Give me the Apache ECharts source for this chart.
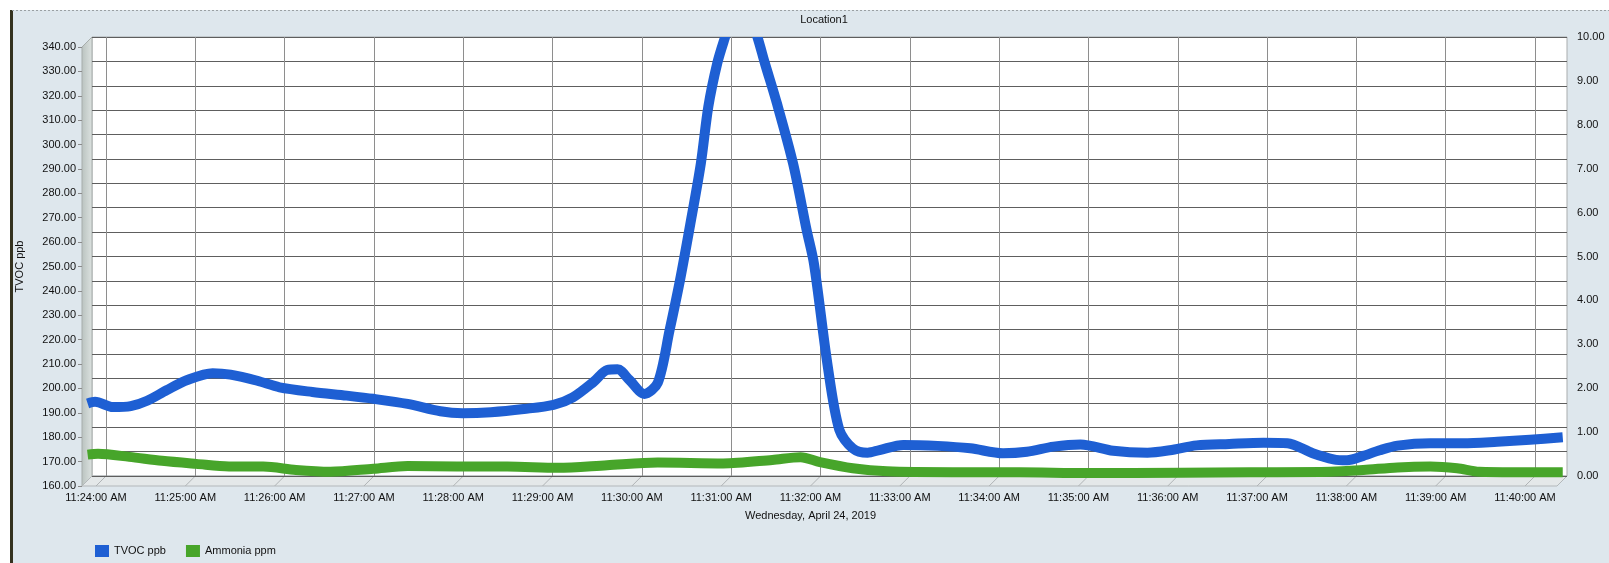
<!DOCTYPE html>
<html><head><meta charset="utf-8">
<script src="https://cdn.jsdelivr.net/npm/echarts@6/dist/echarts.min.js"></script>
<style>html,body{margin:0;padding:0;background:#fff}#c{width:1609px;height:563px}</style>
</head><body><div id="c"></div>
<script>
// ---------- data ----------
const chartTitle = 'Location1';
const dateLabel = 'Wednesday, April 24, 2019';
const seriesNames = ['TVOC ppb', 'Ammonia ppm'];
const timeTickRange = ['11:24:00', '11:40:00'];   // labelled minute ticks
const tvocAxisRange = [160, 340];
const ammoniaAxisRange = [0, 10];

const tvocTimes = ['11:23:51','11:23:56','11:24:08','11:24:20','11:24:31','11:24:44','11:24:58','11:25:15','11:25:27','11:25:45','11:26:00','11:26:22','11:26:45','11:27:03','11:27:26','11:27:48','11:28:03','11:28:22','11:28:44','11:29:04','11:29:17','11:29:31','11:29:40','11:29:47','11:29:55','11:30:05','11:30:14','11:30:22','11:30:29','11:30:36','11:30:43','11:30:48','11:30:54','11:30:59','11:31:10','11:31:21','11:31:26','11:31:34','11:31:45','11:31:54','11:31:59','11:32:08','11:32:16','11:32:25','11:32:35','11:32:43','11:32:59','11:33:22','11:33:44','11:34:06','11:34:22','11:34:40','11:34:58','11:35:20','11:35:43','11:35:58','11:36:16','11:36:38','11:37:01','11:37:17','11:37:34','11:37:48','11:37:57','11:38:08','11:38:19','11:38:31','11:38:53','11:39:15','11:39:38','11:40:00','11:40:22'];
const tvocValues = [191.8,192.5,190.3,190.7,192.9,197.2,201.4,204.2,203.6,201.1,198.4,196.5,195.0,193.7,191.6,188.6,187.8,188.2,189.5,191.2,194.3,200.7,205.5,205.8,201.4,195.7,200.2,221.9,242.4,265.7,290.3,313.5,331.3,341.5,362,342,331.3,315,290,263,249,208,181,173.4,171.6,172.7,174.8,174.4,173.4,171.4,172.0,174.1,175.0,172.4,171.6,172.6,174.6,175.2,175.7,175.5,171.4,168.9,168.5,170.3,172.6,174.5,175.5,175.5,176.1,176.9,177.9];

const ammoniaTimes = ['11:23:51','11:23:58','11:24:19','11:24:41','11:25:04','11:25:26','11:25:49','11:26:11','11:26:34','11:27:03','11:27:26','11:27:59','11:28:33','11:29:07','11:29:40','11:30:14','11:30:58','11:31:31','11:31:50','11:32:03','11:32:25','11:32:48','11:33:32','11:34:17','11:35:02','11:36:05','11:36:52','11:37:46','11:38:08','11:38:31','11:38:53','11:39:11','11:39:26','11:39:49','11:40:22'];
const ammoniaValues = [0.60,0.62,0.55,0.46,0.39,0.33,0.33,0.25,0.21,0.28,0.34,0.33,0.33,0.30,0.36,0.42,0.40,0.48,0.54,0.43,0.29,0.22,0.20,0.20,0.18,0.19,0.20,0.21,0.25,0.31,0.33,0.29,0.21,0.20,0.20];

// ---------- helpers ----------
function toMin(s){const p=s.split(':').map(Number);return p[0]*60+p[1]+p[2]/60;}
function fmtTime(m){
  const h=Math.floor(m/60), mm=Math.round(m-h*60);
  const h12=((h+11)%12)+1;
  return h12+':'+String(mm).padStart(2,'0')+':00 '+(h<12?'AM':'PM');
}
const FONT='Liberation Sans';
const TXT='#111111';

// ---------- layout (3D look: back wall, middle ribbon plane, front axes) ----------
const D = 10;                       // depth offset in px
const back = {left:92, top:37, right:1567, bottom:476};
const tick0 = toMin(timeTickRange[0]), tick1 = toMin(timeTickRange[1]);
const backTickL = 106, backTickR = 1535;
const pxPerMin = (backTickR-backTickL)/(tick1-tick0);
const xMin = tick0 - (backTickL-back.left)/pxPerMin;
const xMax = tick1 + (back.right-backTickR)/pxPerMin;
const W=1609,H=563;

function gridBox(l,t,r,b){return {left:l,top:t,width:r-l,height:b-t,containLabel:false};}

const tvocData = tvocTimes.map((t,i)=>[toMin(t), tvocValues[i]]);
const ammoniaData = ammoniaTimes.map((t,i)=>[toMin(t), ammoniaValues[i]]);

const hidden = {show:false};
const hiddenAxisBits = {axisLine:hidden,axisTick:hidden,axisLabel:hidden,splitLine:hidden};

// decoration graphics
const graphics = [
  {type:'rect', z:-20, shape:{x:12,y:10,width:W-12,height:H-10}, style:{fill:'#dee7ed'}},
  {type:'rect', z:-19, shape:{x:10,y:10,width:3,height:H-10}, style:{fill:'#34321f'}},
  {type:'line', z:-19, shape:{x1:12,y1:10.5,x2:W,y2:10.5}, style:{stroke:'#9aa0a3',lineWidth:1,lineDash:[2,2]}},
  // back wall
  {type:'rect', z:-10, shape:{x:back.left,y:back.top,width:back.right-back.left,height:back.bottom-back.top}, style:{fill:'#ffffff',stroke:'#a9adae',lineWidth:1}},
  // left wall
  {type:'polygon', z:-9, shape:{points:[[back.left-D,back.top+D],[back.left,back.top],[back.left,back.bottom],[back.left-D,back.bottom+D]]},
    style:{fill:new echarts.graphic.LinearGradient(0,0,1,0,[{offset:0,color:'#b9c2bf'},{offset:1,color:'#dde3e1'}]),stroke:'#a7adab',lineWidth:1}},
  // floor
  {type:'polygon', z:-9, shape:{points:[[back.left-D,back.bottom+D],[back.left,back.bottom],[back.right,back.bottom],[back.right-D,back.bottom+D]]},
    style:{fill:'#e4e8e9',stroke:'#b3b8ba',lineWidth:1}}
];
for(let m=tick0;m<=tick1;m++){
  const xb = backTickL + (m-tick0)*pxPerMin;
  graphics.push({type:'line', z:-8, shape:{x1:xb,y1:back.bottom,x2:xb-D,y2:back.bottom+D}, style:{stroke:'#b0b4b6',lineWidth:1}});
}

const chart = echarts.init(document.getElementById('c'), null, {renderer:'canvas'});
chart.setOption({
  animation:false,
  backgroundColor:'#ffffff',
  textStyle:{fontFamily:FONT},
  title:{text:chartTitle, left:819, textAlign:'center', top:9,
    textStyle:{fontFamily:FONT,fontSize:11,fontWeight:'normal',color:TXT}},
  legend:{data:seriesNames, left:90, top:540, icon:'rect', itemWidth:14, itemHeight:12, itemGap:20,
    textStyle:{fontFamily:FONT,fontSize:11,color:TXT}},
  graphic:graphics,
  grid:[
    gridBox(back.left, back.top, back.right, back.bottom),              // 0 back wall (horizontal grid, right axis)
    gridBox(backTickL, back.top, backTickR, back.bottom),               // 1 back wall minute lines
    gridBox(back.left-D/2, back.top+D/2, back.right-D/2, back.bottom+D/2), // 2 ribbon plane
    gridBox(backTickL-D, back.top+D, backTickR-D, back.bottom+D)         // 3 front axes
  ],
  xAxis:[
    Object.assign({gridIndex:0,type:'value',min:xMin,max:xMax},hiddenAxisBits),
    Object.assign({gridIndex:1,type:'value',min:tick0,max:tick1,interval:1},hiddenAxisBits,
      {splitLine:{show:true,lineStyle:{color:'#8e8e8e',width:1}}}),
    Object.assign({gridIndex:2,type:'value',min:xMin,max:xMax},hiddenAxisBits),
    {gridIndex:3,type:'value',min:tick0,max:tick1,interval:1,
      axisLine:{show:false}, axisTick:{show:false}, splitLine:{show:false},
      axisLabel:{show:true,margin:6,fontFamily:FONT,fontSize:11,color:TXT,formatter:fmtTime},
      name:dateLabel, nameLocation:'middle', nameGap:24,
      nameTextStyle:{fontFamily:FONT,fontSize:11,color:TXT}}
  ],
  yAxis:[
    Object.assign({gridIndex:0,type:'value',position:'left',min:tvocAxisRange[0],max:tvocAxisRange[1],interval:10},hiddenAxisBits,
      {splitLine:{show:true,lineStyle:{color:'#5e5e5e',width:1.2}}}),
    {gridIndex:0,type:'value',position:'right',min:ammoniaAxisRange[0],max:ammoniaAxisRange[1],interval:1,
      axisLine:hidden,axisTick:hidden,splitLine:hidden,
      axisLabel:{show:true,margin:10,fontFamily:FONT,fontSize:11,color:TXT,formatter:v=>v.toFixed(2)}},
    Object.assign({gridIndex:1,type:'value',min:0,max:1},hiddenAxisBits),
    Object.assign({gridIndex:2,type:'value',position:'left',min:tvocAxisRange[0],max:tvocAxisRange[1]},hiddenAxisBits),
    Object.assign({gridIndex:2,type:'value',position:'right',min:ammoniaAxisRange[0],max:ammoniaAxisRange[1]},hiddenAxisBits),
    {gridIndex:3,type:'value',position:'left',offset:(backTickL-back.left),min:tvocAxisRange[0],max:tvocAxisRange[1],interval:10,
      axisLine:{show:false}, axisTick:{show:true,length:4,lineStyle:{color:'#8a8a8a'}}, splitLine:hidden,
      axisLabel:{show:true,margin:6,fontFamily:FONT,fontSize:11,color:TXT,formatter:v=>v.toFixed(2)},
      name:seriesNames[0], nameLocation:'middle', nameGap:57,
      nameTextStyle:{fontFamily:FONT,fontSize:11,color:TXT}}
  ],
  series:[
    {name:seriesNames[0], type:'line', xAxisIndex:2, yAxisIndex:3, data:tvocData,
      smooth:0.3, showSymbol:false, clip:true, z:5,
      itemStyle:{color:'#1e5fd3'}, lineStyle:{color:'#1e5fd3',width:10,cap:'butt',join:'round'}},
    {name:seriesNames[1], type:'line', xAxisIndex:2, yAxisIndex:4, data:ammoniaData,
      smooth:0.3, showSymbol:false, clip:true, z:4,
      itemStyle:{color:'#47a52a'}, lineStyle:{color:'#47a52a',width:10,cap:'butt',join:'round'}}
  ]
});
</script></body></html>
